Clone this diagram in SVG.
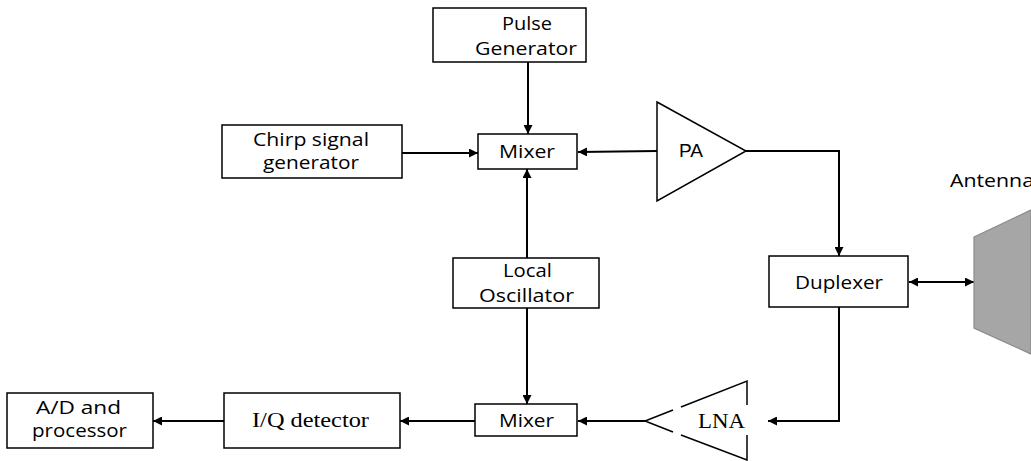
<svg xmlns="http://www.w3.org/2000/svg" width="1031" height="461" viewBox="0 0 1031 461">
<style>
.box{fill:#fff;stroke:#000;stroke-width:1.5}
.t{font-family:"Open Sans","Liberation Sans",sans-serif;font-size:18px;fill:#000;text-anchor:start}
.s{font-family:"Liberation Serif",serif;font-size:20px;fill:#000}
.c{fill:none;stroke:#000;stroke-width:2}
.tri{fill:#fff;stroke:#000;stroke-width:1.5}
</style>
<defs>
<marker id="ah" viewBox="0 0 10 10" refX="10" refY="5" markerWidth="11" markerHeight="9" markerUnits="userSpaceOnUse" orient="auto-start-reverse">
<path d="M0,0 L10,5 L0,10 Z" fill="#000"/>
</marker>
</defs>
<rect width="1031" height="461" fill="#fff"/>
<g id="connectors">
<path class="c" d="M528,62 L528,134" marker-end="url(#ah)"/>
<path class="c" d="M402,153 L478,153" marker-end="url(#ah)"/>
<path class="c" d="M657,151 L578,152" marker-end="url(#ah)"/>
<path class="c" d="M527,258 L527,169" marker-end="url(#ah)"/>
<path class="c" d="M746,151 L839,151 L839,256" marker-end="url(#ah)"/>
<path class="c" d="M909,282 L974,282" marker-start="url(#ah)" marker-end="url(#ah)"/>
<path class="c" d="M527,308 L527,404" marker-end="url(#ah)"/>
<path class="c" d="M839,307 L839,421 L768,421" marker-end="url(#ah)"/>
<path class="c" d="M645,421 L578,421" marker-end="url(#ah)"/>
<path class="c" d="M475,421 L400,421" marker-end="url(#ah)"/>
<path class="c" d="M224,421 L153,421" marker-end="url(#ah)"/>
</g>
<g id="pulse">
<rect class="box" x="433" y="8" width="153" height="54"/>
<text class="t" x="502" y="30" textLength="50" lengthAdjust="spacingAndGlyphs">Pulse</text>
<text class="t" x="475" y="55" textLength="102" lengthAdjust="spacingAndGlyphs">Generator</text>
</g>
<g id="chirp">
<rect class="box" x="222" y="125" width="180" height="53"/>
<text class="t" x="253" y="146" font-size="17.5" textLength="116" lengthAdjust="spacingAndGlyphs">Chirp signal</text>
<text class="t" x="263" y="169" font-size="17.5" textLength="96" lengthAdjust="spacingAndGlyphs">generator</text>
</g>
<g id="mixer1">
<rect class="box" x="478" y="134" width="99" height="35"/>
<text class="t" x="499" y="158" textLength="56" lengthAdjust="spacingAndGlyphs">Mixer</text>
</g>
<g id="pa">
<path class="tri" d="M657,102 L746,151 L657,201 Z"/>
<text x="679" y="157" font-family="Liberation Sans, Arial, sans-serif" font-size="18" textLength="24" lengthAdjust="spacingAndGlyphs">PA</text>
</g>
<g id="lo">
<rect class="box" x="453" y="258" width="146" height="50"/>
<text class="t" x="503" y="277" textLength="49" lengthAdjust="spacingAndGlyphs">Local</text>
<text class="t" x="479" y="302" textLength="95" lengthAdjust="spacingAndGlyphs">Oscillator</text>
</g>
<g id="duplexer">
<rect class="box" x="769" y="256" width="139" height="51"/>
<text class="t" x="795" y="289" textLength="88" lengthAdjust="spacingAndGlyphs">Duplexer</text>
</g>
<g id="antenna">
<path d="M974,237 L1031,210 L1031,354 L974,328 Z" fill="#a6a6a6" stroke="#8a8a8a" stroke-width="1.2"/>
<text class="t" x="950" y="187" textLength="84" lengthAdjust="spacingAndGlyphs">Antenna</text>
</g>
<g id="mixer2">
<rect class="box" x="475" y="404" width="102" height="32"/>
<text class="t" x="499" y="427" textLength="55" lengthAdjust="spacingAndGlyphs">Mixer</text>
</g>
<g id="lna">
<path class="c" style="stroke-width:1.5" d="M747,405 L747,381 L681,407 M673,410 L645,421 L673,432 M681,435 L747,460 L747,435"/>
<text class="s" x="698" y="428" textLength="47" lengthAdjust="spacingAndGlyphs">LNA</text>
</g>
<g id="iq">
<rect class="box" x="224" y="393" width="176" height="55"/>
<text class="s" x="252" y="427" textLength="117" lengthAdjust="spacingAndGlyphs">I/Q detector</text>
</g>
<g id="ad">
<rect class="box" x="7" y="393" width="146" height="55"/>
<text class="t" x="36" y="414" textLength="85" lengthAdjust="spacingAndGlyphs">A/D and</text>
<text class="t" x="32" y="437" textLength="95" lengthAdjust="spacingAndGlyphs">processor</text>
</g>
</svg>
